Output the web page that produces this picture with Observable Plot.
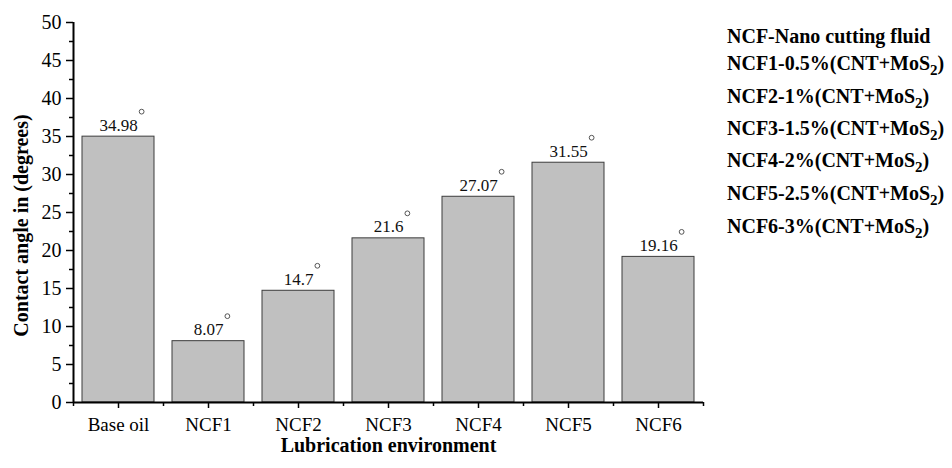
<!DOCTYPE html>
<html>
<head>
<meta charset="utf-8">
<script src="https://cdn.jsdelivr.net/npm/d3@7"></script>
<script src="https://cdn.jsdelivr.net/npm/@observablehq/plot@0.6"></script>
<style>
  html, body { margin: 0; padding: 0; background: #fff; }
  #wrap { position: relative; width: 952px; height: 468px; font-family: "Liberation Serif", "DejaVu Serif", "Times New Roman", Times, serif; }
  #legend { position: absolute; left: 727px; top: 0; font-weight: bold; font-size: 20px; color: #000; font-family: "Liberation Serif", "DejaVu Serif", "Times New Roman", Times, serif; }
  #legend div { position: absolute; left: 0; white-space: nowrap; line-height: 20px; }
  #legend sub { font-size: 15px; vertical-align: -5px; line-height: 0; }
  svg text { font-family: "Liberation Serif", "DejaVu Serif", "Times New Roman", Times, serif; }
</style>
</head>
<body>
<div id="wrap"><div id="legend"></div></div>
<script>
const categories = ["Base oil", "NCF1", "NCF2", "NCF3", "NCF4", "NCF5", "NCF6"];
const values = [34.98, 8.07, 14.7, 21.6, 27.07, 31.55, 19.16];
const valueLabels = ["34.98", "8.07", "14.7", "21.6", "27.07", "31.55", "19.16"];
const yTicks = [0, 5, 10, 15, 20, 25, 30, 35, 40, 45, 50];
const yMinorTicks = [2.5, 7.5, 12.5, 17.5, 22.5, 27.5, 32.5, 37.5, 42.5, 47.5];
const yTitle = "Contact angle in (degrees)";
const xTitle = "Lubrication environment";
const legendLines = [
  ["NCF-Nano cutting fluid", "", ""],
  ["NCF1-0.5%(CNT+MoS", "2", ")"],
  ["NCF2-1%(CNT+MoS", "2", ")"],
  ["NCF3-1.5%(CNT+MoS", "2", ")"],
  ["NCF4-2%(CNT+MoS", "2", ")"],
  ["NCF5-2.5%(CNT+MoS", "2", ")"],
  ["NCF6-3%(CNT+MoS", "2", ")"]
];
const legendBaselines = [43, 70, 103, 135, 167, 200, 233];

const data = categories.map((c, i) => ({cat: c, value: values[i], label: valueLabels[i]}));

const FONT = '"Liberation Serif", "DejaVu Serif", "Times New Roman", Times, serif';
const labelFont = 17;
const ctx = document.createElement("canvas").getContext("2d");
ctx.font = `${labelFont}px ${FONT}`;

const degreeMarks = data.map(d => Plot.dot([d], {
  x: "cat", y: "value", r: 2.4, fill: "white", stroke: "#555", strokeWidth: 1,
  dx: ctx.measureText(d.label).width / 2 + 4, dy: -25
}));

const plot = Plot.plot({
  width: 952,
  height: 468,
  marginLeft: 73,
  marginRight: 249,
  marginTop: 22,
  marginBottom: 66,
  style: {fontFamily: FONT, background: "white", color: "#000"},
  x: {domain: categories, paddingInner: 0.2, paddingOuter: 0.1, label: null},
  y: {domain: [0, 50], label: null},
  marks: [
    Plot.barY(data, {x: "cat", y: "value", fill: "#c0c0c0", stroke: "#3c3c3c", strokeWidth: 1}),
    Plot.axisY(yTicks, {tickSize: 7, tickPadding: 5, fontSize: 20, tickFormat: d => String(d), stroke: "#000", strokeWidth: 1.5, fill: "#000"}),
    Plot.axisY(yMinorTicks, {tickSize: 4, tickFormat: () => "", stroke: "#000", strokeWidth: 1.5}),
    Plot.axisX({tickSize: 6, tickPadding: 9, fontSize: 19, stroke: "#000", strokeWidth: 1.5, fill: "#000"}),
    Plot.axisX({tickSize: 4, dx: 45, tickFormat: () => "", stroke: "#000", strokeWidth: 1.5}),
    Plot.axisX([categories[0]], {tickSize: 4, dx: -45, tickFormat: () => "", stroke: "#000", strokeWidth: 1.5}),
    Plot.ruleY([0], {stroke: "#000", strokeWidth: 2}),
    Plot.ruleX([categories[0]], {dx: -45, y1: 0, y2: 50, stroke: "#000", strokeWidth: 2}),
    Plot.text(data, {x: "cat", y: "value", text: "label", dy: -6, lineAnchor: "bottom", fontSize: labelFont, fill: "#111"}),
    ...degreeMarks,
    Plot.text([yTitle], {frameAnchor: "left", textAnchor: "middle", lineAnchor: "middle", rotate: -90, dx: -52, dy: 13, fontSize: 20, fontWeight: "bold", fill: "#000"}),
    Plot.text([xTitle], {frameAnchor: "bottom", textAnchor: "middle", lineAnchor: "middle", dy: 43, fontSize: 20, fontWeight: "bold", fill: "#000"})
  ]
});
const wrap = document.getElementById("wrap");
wrap.insertBefore(plot, wrap.firstChild);

const legend = document.getElementById("legend");
legendLines.forEach((parts, i) => {
  const div = document.createElement("div");
  div.style.top = (legendBaselines[i] - 16.75) + "px";
  div.appendChild(document.createTextNode(parts[0]));
  if (parts[1]) {
    const sub = document.createElement("sub");
    sub.textContent = parts[1];
    div.appendChild(sub);
  }
  if (parts[2]) div.appendChild(document.createTextNode(parts[2]));
  legend.appendChild(div);
});
</script>
</body>
</html>
